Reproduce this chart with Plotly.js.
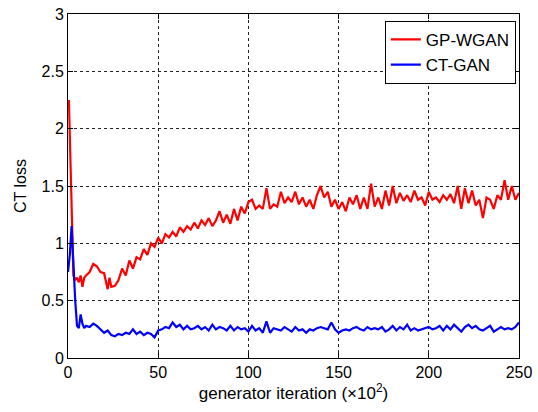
<!DOCTYPE html>
<html>
<head>
<meta charset="utf-8">
<script src="https://cdn.plot.ly/plotly-3.0.1.min.js"></script>
<style>html,body{margin:0;padding:0;background:#fff;}#chart{width:538px;height:412px;}</style>
</head>
<body>
<div id="chart"></div>
<script>
// GP-WGAN series
const redX = [0.5,1,2,3,4,5,6,7,8,9,10,12,14,16,18,20,22,23,24,26,28,30,32,34,36,38,40,42,44,46,48,50,52,54,56,58,60,62,64,66,68,70,72,74,76,78,80,82,84,86,88,90,92,94,96,98,100,102,104,106,108,110,112,114,116,118,120,122,124,126,128,130,132,134,136,138,140,142,144,146,148,150,152,154,156,158,160,162,164,166,168,170,172,174,176,178,180,182,184,186,188,190,192,194,196,198,200,202,204,206,208,210,212,214,216,218,220,222,224,226,228,230,232,234,236,238,240,242,244,246,248,250];
const redY = [2.25,1.9,1.2,0.72,0.68,0.7,0.66,0.72,0.62,0.7,0.72,0.75,0.82,0.8,0.75,0.74,0.6,0.7,0.62,0.63,0.68,0.78,0.72,0.85,0.78,0.88,0.86,0.95,0.9,1.0,0.97,1.05,1.0,1.08,1.05,1.1,1.06,1.14,1.1,1.15,1.12,1.18,1.13,1.2,1.16,1.22,1.15,1.2,1.28,1.18,1.25,1.17,1.3,1.2,1.32,1.26,1.36,1.38,1.3,1.33,1.3,1.48,1.3,1.34,1.32,1.45,1.35,1.4,1.36,1.45,1.34,1.4,1.32,1.38,1.3,1.42,1.5,1.4,1.45,1.32,1.38,1.3,1.36,1.28,1.4,1.34,1.42,1.3,1.4,1.3,1.52,1.32,1.4,1.3,1.46,1.33,1.5,1.35,1.44,1.37,1.42,1.36,1.46,1.38,1.4,1.33,1.45,1.38,1.4,1.36,1.42,1.38,1.43,1.35,1.5,1.3,1.48,1.35,1.46,1.33,1.38,1.22,1.4,1.38,1.3,1.42,1.38,1.55,1.38,1.5,1.38,1.44];
// CT-GAN series
const blueX = [0,1,2,3,4,5,6,7,8,9,10,12,14,16,18,20,22,24,26,28,30,32,34,36,38,40,42,44,46,48,50,52,54,56,58,60,62,64,66,68,70,72,74,76,78,80,82,84,86,88,90,92,94,96,98,100,102,104,106,108,110,112,114,116,118,120,122,124,126,128,130,132,134,136,138,140,142,144,146,148,150,152,154,156,158,160,162,164,166,168,170,172,174,176,178,180,182,184,186,188,190,192,194,196,198,200,202,204,206,208,210,212,214,216,218,220,222,224,226,228,230,232,234,236,238,240,242,244,246,248,250];
const blueY = [0.75,0.9,1.15,0.8,0.5,0.28,0.26,0.38,0.3,0.26,0.28,0.27,0.3,0.28,0.25,0.22,0.24,0.2,0.19,0.21,0.2,0.22,0.21,0.25,0.21,0.23,0.2,0.22,0.21,0.18,0.24,0.25,0.27,0.26,0.31,0.27,0.29,0.25,0.28,0.25,0.26,0.28,0.25,0.27,0.24,0.29,0.25,0.27,0.26,0.24,0.28,0.24,0.27,0.25,0.26,0.23,0.28,0.24,0.26,0.22,0.32,0.22,0.26,0.25,0.24,0.27,0.25,0.23,0.27,0.24,0.25,0.22,0.25,0.24,0.26,0.27,0.26,0.25,0.31,0.25,0.22,0.24,0.25,0.24,0.26,0.27,0.25,0.24,0.27,0.25,0.26,0.25,0.27,0.23,0.25,0.28,0.24,0.27,0.25,0.29,0.24,0.26,0.24,0.25,0.26,0.27,0.25,0.26,0.28,0.24,0.28,0.25,0.29,0.26,0.23,0.27,0.29,0.26,0.28,0.25,0.24,0.26,0.28,0.23,0.25,0.27,0.25,0.26,0.25,0.27,0.31];
const xTicks = [0,50,100,150,200,250];
const yTicks = [0,0.5,1,1.5,2,2.5,3];
const names = ['GP-WGAN','CT-GAN'];

const font = {family:'Liberation Sans, Arial, sans-serif', size:16, color:'#000'};
const titleFont = {family:font.family, size:17, color:'#000'};
const traces = [
  {x:redX, y:redY, type:'scatter', mode:'lines', name:names[0], line:{color:'#ff0000', width:2.2}},
  {x:blueX, y:blueY, type:'scatter', mode:'lines', name:names[1], line:{color:'#0000ff', width:2.2}}
];
const axisCommon = {
  showline:true, linecolor:'#000', linewidth:1, mirror:'ticks',
  ticks:'inside', ticklen:5, tickcolor:'#000',
  showgrid:true, gridcolor:'#222', griddash:'dot', gridwidth:1,
  zeroline:false, tickfont:font
};
const layout = {
  width:538, height:412,
  margin:{l:68, r:19, t:14, b:54},
  paper_bgcolor:'#fff', plot_bgcolor:'#fff',
  font:font,
  showlegend:true,
  legend:{x:0.993, y:0.98, xanchor:'right', yanchor:'top', bgcolor:'#fff', bordercolor:'#000', borderwidth:1, font:{family:font.family, size:17, color:'#000'}, tracegroupgap:0},
  xaxis:Object.assign({}, axisCommon, {range:[0,250], tickvals:xTicks, ticktext:xTicks.map(String), title:{text:'generator iteration (×10<sup>2</sup>)', font:titleFont, standoff:2}}),
  yaxis:Object.assign({}, axisCommon, {range:[0,3], tickvals:yTicks, ticktext:yTicks.map(String), title:{text:'CT loss', font:font, standoff:10}})
};
Plotly.newPlot('chart', traces, layout, {displayModeBar:false, staticPlot:true});
</script>
</body>
</html>
